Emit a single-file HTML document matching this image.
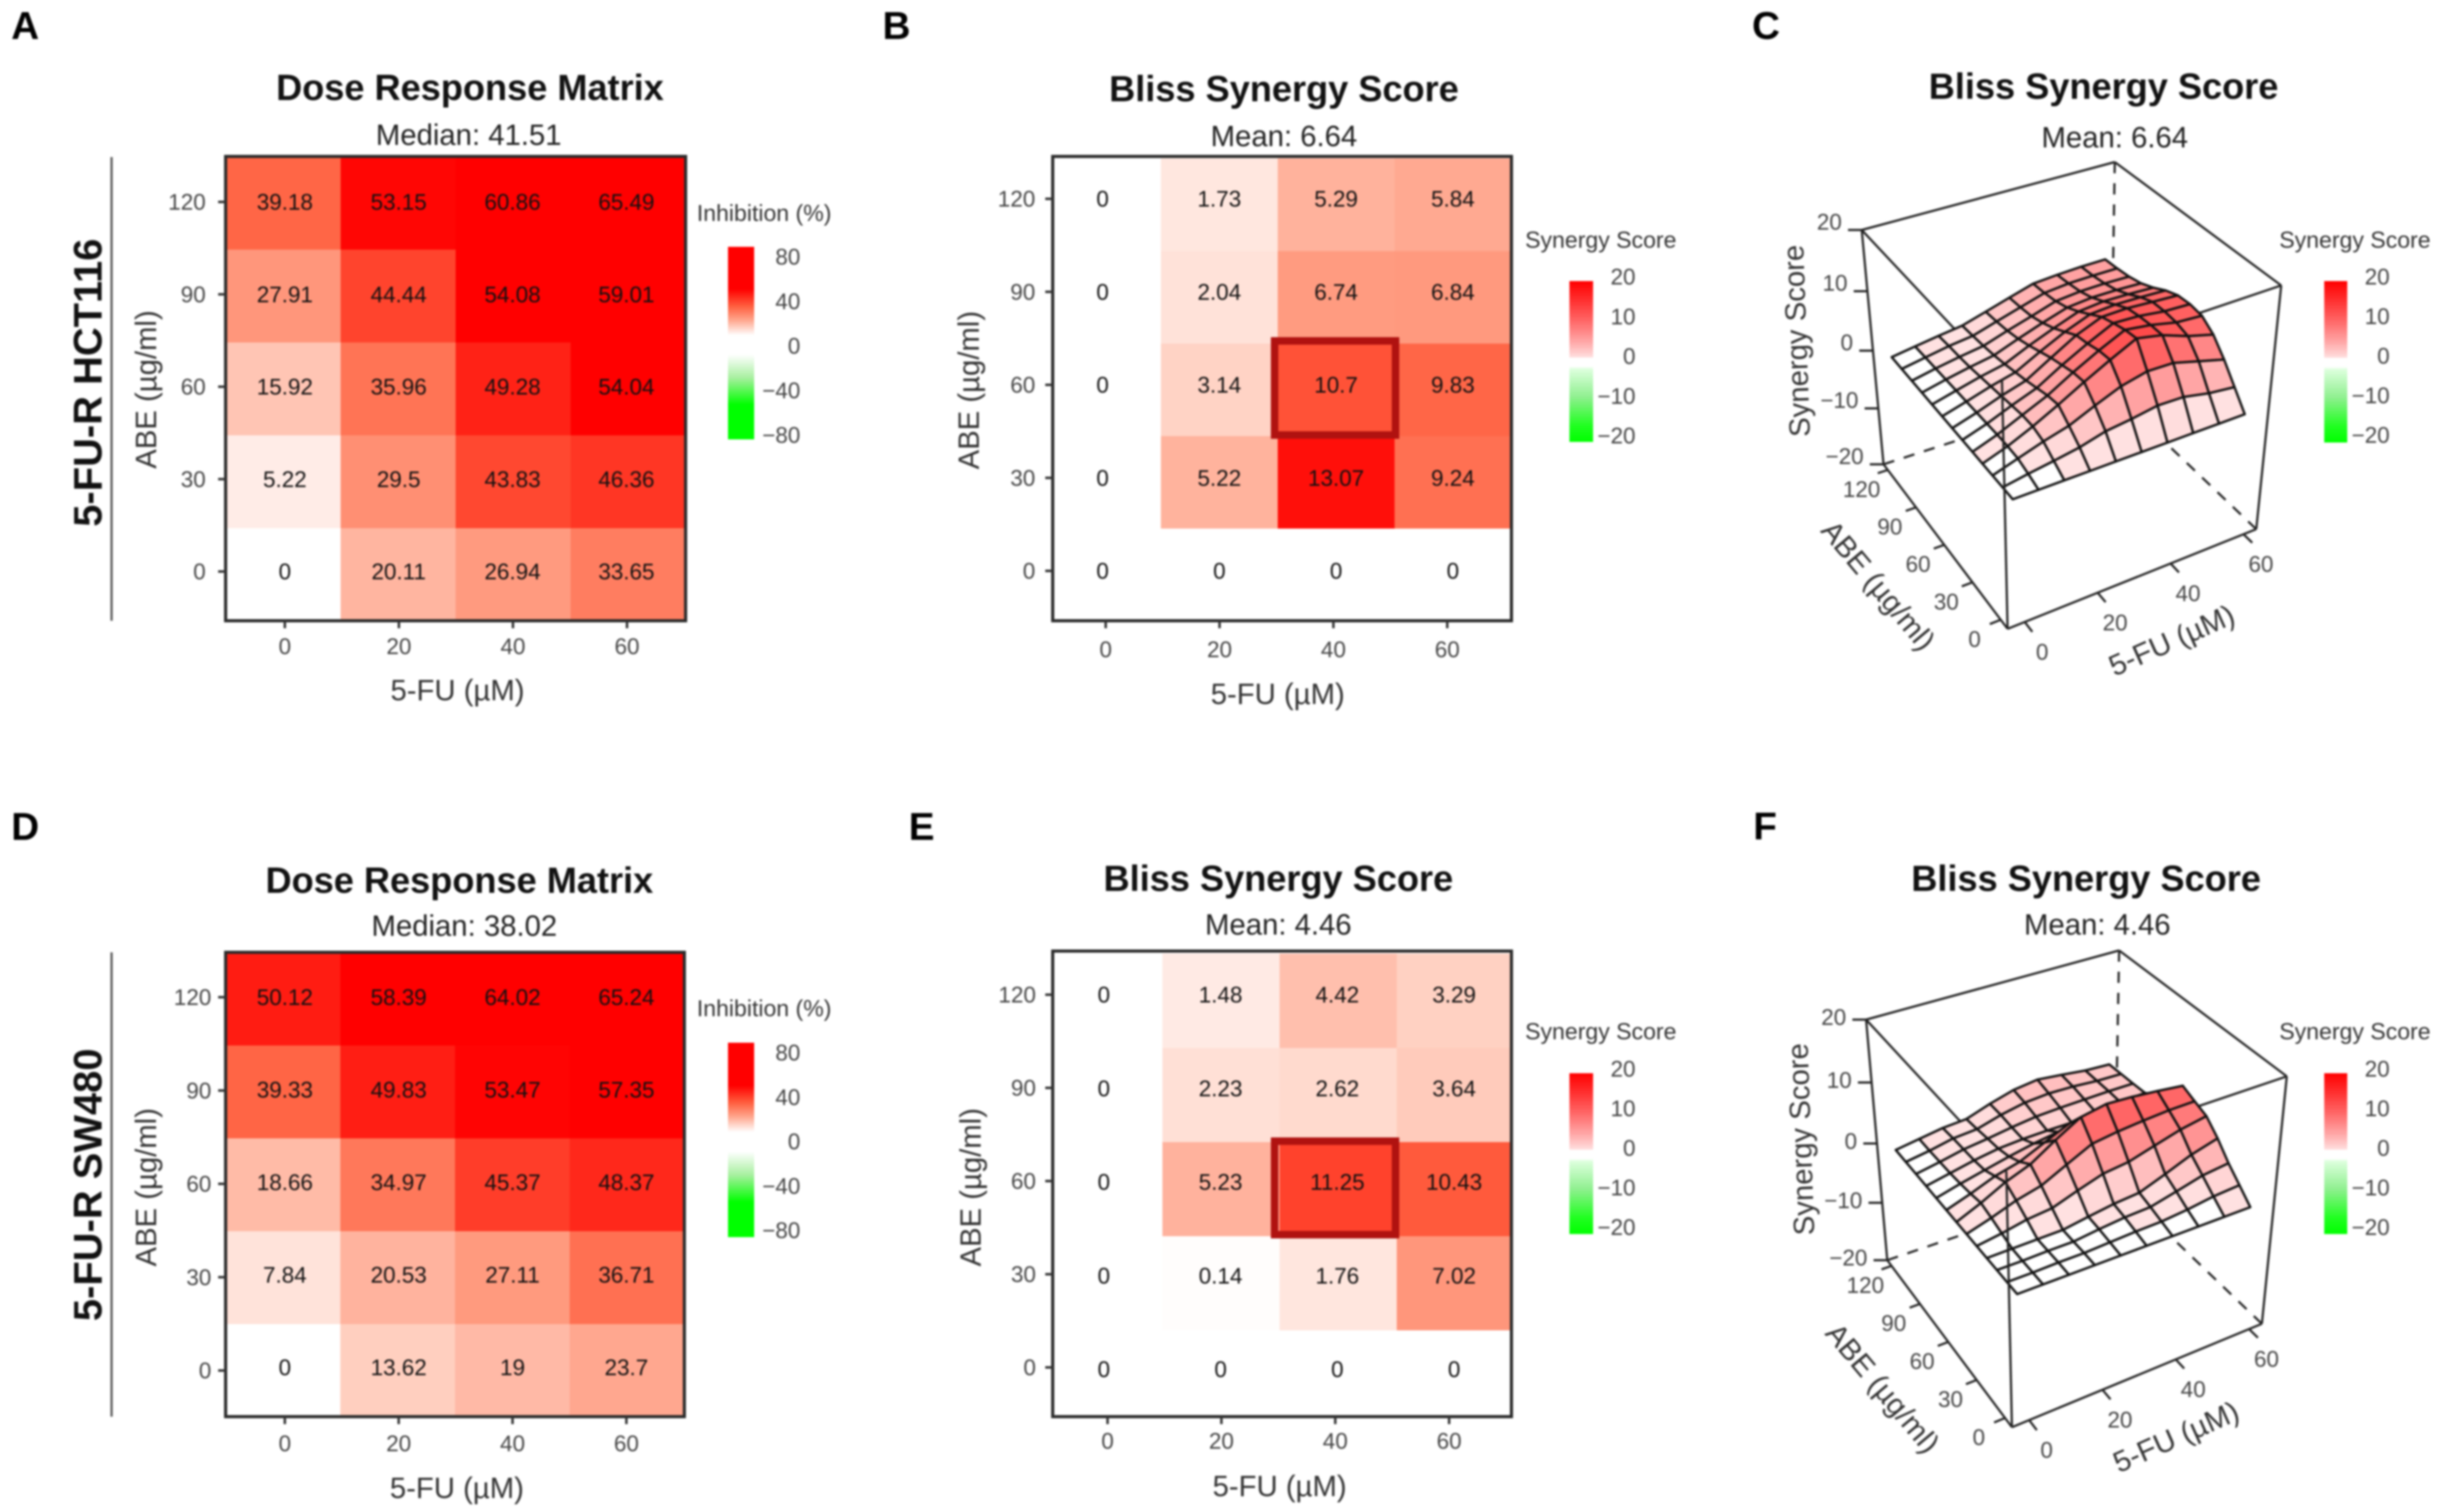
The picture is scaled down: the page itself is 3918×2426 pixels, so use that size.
<!DOCTYPE html>
<html lang="en">
<head>
<meta charset="utf-8">
<title>Dose response and Bliss synergy panels</title>
<style>
html,body{margin:0;padding:0;background:#fff}
svg{display:block;filter:blur(1.6px);font-family:"Liberation Sans",Arial,sans-serif}
.title{font-size:58px;font-weight:700;fill:#111;text-anchor:middle;dominant-baseline:central}
.sub{font-size:47px;fill:#222;text-anchor:middle;dominant-baseline:central}
.axt{font-size:47px;fill:#333;text-anchor:middle;dominant-baseline:central}
.row{font-size:64px;font-weight:700;fill:#111;text-anchor:middle;dominant-baseline:central}
.letter{font-size:62px;font-weight:700;fill:#000;dominant-baseline:central}
.lgt{font-size:37px;fill:#333;dominant-baseline:central}
.tick{font-size:36px;fill:#444;dominant-baseline:central}
.val{font-size:36px;fill:#111;text-anchor:middle;dominant-baseline:central}
</style>
</head>
<body>
<svg id="figure" xmlns="http://www.w3.org/2000/svg" width="3918" height="2426" viewBox="0 0 3918 2426">
<defs>
<linearGradient id="grad-inhibition" x1="0" y1="0" x2="0" y2="1">
<stop offset="0" stop-color="#ff0000"/><stop offset=".22" stop-color="#ff0000"/><stop offset=".31" stop-color="#ff6040"/><stop offset=".38" stop-color="#ffa58c"/><stop offset=".46" stop-color="#ffffff"/><stop offset=".56" stop-color="#ffffff"/><stop offset=".68" stop-color="#a8f0a0"/><stop offset=".82" stop-color="#00ff00"/><stop offset="1" stop-color="#00ff00"/>
</linearGradient>
<linearGradient id="grad-synergy" x1="0" y1="0" x2="0" y2="1">
<stop offset="0" stop-color="#ff0000"/><stop offset=".12" stop-color="#ff3030"/><stop offset=".25" stop-color="#ff6868"/><stop offset=".38" stop-color="#ffa8a8"/><stop offset=".47" stop-color="#ffdcdc"/><stop offset=".48" stop-color="#ffffff"/><stop offset=".53" stop-color="#ffffff"/><stop offset=".55" stop-color="#dcffdc"/><stop offset=".72" stop-color="#90f090"/><stop offset=".9" stop-color="#20ff20"/><stop offset="1" stop-color="#00ff00"/>
</linearGradient>
<clipPath id="clip-a"><rect x="362" y="251" width="738" height="745"/></clipPath>
<clipPath id="clip-b"><rect x="1689" y="251" width="736" height="745"/></clipPath>
<clipPath id="clip-d"><rect x="362" y="1528" width="736" height="745"/></clipPath>
<clipPath id="clip-e"><rect x="1689" y="1526" width="736" height="747"/></clipPath>
</defs>

<text class="letter" x="18" y="42">A</text>
<text class="letter" x="1416" y="42">B</text>
<text class="letter" x="2811" y="42">C</text>
<text class="letter" x="18" y="1327">D</text>
<text class="letter" x="1458" y="1327">E</text>
<text class="letter" x="2813" y="1326">F</text>

<text class="row" transform="translate(141 614) rotate(-90)">5-FU-R HCT116</text>
<line x1="179" y1="252" x2="179" y2="996" stroke="#555" stroke-width="3.5"/>
<text class="row" transform="translate(141 1901) rotate(-90)">5-FU-R SW480</text>
<line x1="179" y1="1528" x2="179" y2="2273" stroke="#555" stroke-width="3.5"/>

<g id="panel-a">
<text class="title" x="754" y="141">Dose Response Matrix</text>
<text class="sub" x="752" y="216">Median: 41.51</text>
<text class="axt" x="734" y="1107">5-FU (µM)</text>
<text class="axt" transform="translate(234 625) rotate(-90)">ABE (µg/ml)</text>
<text class="lgt" x="1118" y="342">Inhibition (%)</text>
<rect x="1168" y="396" width="42" height="309" fill="url(#grad-inhibition)"/>
</g>

<g id="panel-b">
<text class="title" x="2060" y="143">Bliss Synergy Score</text>
<text class="sub" x="2060" y="218">Mean: 6.64</text>
<text class="axt" x="2050" y="1113">5-FU (µM)</text>
<text class="axt" transform="translate(1554 626) rotate(-90)">ABE (µg/ml)</text>
<text class="lgt" x="2447" y="385">Synergy Score</text>
<rect x="2518" y="451" width="38" height="258" fill="url(#grad-synergy)"/>
</g>

<g id="panel-c">
<text class="title" x="3375" y="139">Bliss Synergy Score</text>
<text class="sub" x="3393" y="220">Mean: 6.64</text>
<text class="axt" transform="translate(2882 547) rotate(-92)">Synergy Score</text>
<text class="axt" transform="translate(3014 939) rotate(50)">ABE (µg/ml)</text>
<text class="axt" transform="translate(3484 1027) rotate(-24)">5-FU (µM)</text>
<text class="lgt" x="3657" y="385">Synergy Score</text>
<rect x="3729" y="451" width="37" height="259" fill="url(#grad-synergy)"/>
</g>

<g id="panel-d">
<text class="title" x="737" y="1413">Dose Response Matrix</text>
<text class="sub" x="745" y="1485">Median: 38.02</text>
<text class="axt" x="733" y="2387">5-FU (µM)</text>
<text class="axt" transform="translate(234 1905) rotate(-90)">ABE (µg/ml)</text>
<text class="lgt" x="1118" y="1618">Inhibition (%)</text>
<rect x="1168" y="1673" width="42" height="312" fill="url(#grad-inhibition)"/>
</g>

<g id="panel-e">
<text class="title" x="2051" y="1410">Bliss Synergy Score</text>
<text class="sub" x="2051" y="1483">Mean: 4.46</text>
<text class="axt" x="2053" y="2384">5-FU (µM)</text>
<text class="axt" transform="translate(1557 1905) rotate(-90)">ABE (µg/ml)</text>
<text class="lgt" x="2447" y="1655">Synergy Score</text>
<rect x="2518" y="1722" width="38" height="258" fill="url(#grad-synergy)"/>
</g>

<g id="panel-f">
<text class="title" x="3347" y="1410">Bliss Synergy Score</text>
<text class="sub" x="3365" y="1483">Mean: 4.46</text>
<text class="axt" transform="translate(2889 1828) rotate(-92)">Synergy Score</text>
<text class="axt" transform="translate(3021 2227) rotate(50)">ABE (µg/ml)</text>
<text class="axt" transform="translate(3491 2305) rotate(-24)">5-FU (µM)</text>
<text class="lgt" x="3657" y="1655">Synergy Score</text>
<rect x="3729" y="1722" width="37" height="258" fill="url(#grad-synergy)"/>
</g>
</svg>

<script>
// Chart data. Rows run from ABE 0 to ABE 120, columns from 5-FU 0 to 60.
const fuDoses = [0, 20, 40, 60];
const abeDoses = [0, 30, 60, 90, 120];
const inhibitionTicks = [80, 40, 0, -40, -80];
const synergyTicks = [20, 10, 0, -10, -20];
const zTicks = [20, 10, 0, -10, -20];
const panelAValues = [
  [0, 20.11, 26.94, 33.65],
  [5.22, 29.5, 43.83, 46.36],
  [15.92, 35.96, 49.28, 54.04],
  [27.91, 44.44, 54.08, 59.01],
  [39.18, 53.15, 60.86, 65.49]
];
const panelBValues = [
  [0, 0, 0, 0],
  [0, 5.22, 13.07, 9.24],
  [0, 3.14, 10.7, 9.83],
  [0, 2.04, 6.74, 6.84],
  [0, 1.73, 5.29, 5.84]
];
const panelDValues = [
  [0, 13.62, 19, 23.7],
  [7.84, 20.53, 27.11, 36.71],
  [18.66, 34.97, 45.37, 48.37],
  [39.33, 49.83, 53.47, 57.35],
  [50.12, 58.39, 64.02, 65.24]
];
const panelEValues = [
  [0, 0, 0, 0],
  [0, 0.14, 1.76, 7.02],
  [0, 5.23, 11.25, 10.43],
  [0, 2.23, 2.62, 3.64],
  [0, 1.48, 4.42, 3.29]
];
const meshFuDoses = [0, 6.67, 13.33, 20, 26.67, 33.33, 40, 46.67, 53.33, 60];
const meshAbeDoses = [0, 10, 20, 30, 40, 50, 60, 70, 80, 90, 100, 110, 120];
const panelCSurface = [
  [0, 0, 0, 0, 0, 0, 0, 0, 0, 0],
  [0, 0.7, 1.3, 2, 3.1, 3.6, 4.3, 4.2, 3.3, 2.8],
  [0, 1.3, 2.6, 3.7, 5.5, 7.2, 8.2, 8.1, 6.9, 5.7],
  [0, 1.4, 3.2, 5.3, 7.6, 9.8, 11.9, 11, 9.4, 8.2],
  [0, 1.4, 3.2, 5, 7.4, 9.6, 11.6, 11, 10, 9.7],
  [0, 1.3, 2.9, 4.4, 6.8, 9, 11, 10.8, 10.2, 10],
  [0, 1.2, 2.6, 3.8, 6.2, 8.6, 10.3, 10.4, 10.1, 9.83],
  [0, 1.1, 2.3, 3.3, 5.4, 7.4, 9, 9.3, 9.2, 9],
  [0, 1, 2, 2.8, 4.6, 6.2, 7.7, 8.1, 8, 7.8],
  [0, 0.9, 1.7, 2.4, 3.9, 5.3, 6.6, 7, 7, 6.84],
  [0, 0.8, 1.5, 2.1, 3.4, 4.6, 5.9, 6.3, 6.4, 6.3],
  [0, 0.7, 1.4, 1.9, 3.1, 4.3, 5.5, 5.9, 6, 6],
  [0, 0.6, 1.2, 1.73, 2.9, 4.1, 5.29, 5.6, 5.8, 5.84]
];
const panelFSurface = [
  [0, 0, 0, 0, 0, 0, 0, 0, 0, 0],
  [0, 0, 0.1, 0.1, 0.3, 0.5, 0.6, 1, 1.6, 1.9],
  [0, 0, 0.1, 0.1, 0.6, 1, 1.2, 2.2, 3.3, 3.8],
  [0, 0.05, 0.1, 0.14, 0.8, 1.4, 1.76, 3.3, 5, 6.2],
  [0, 0.6, 1.4, 1.8, 3.2, 4.5, 5, 6.2, 7.4, 8.2],
  [0, 1.2, 2.6, 3.6, 5.6, 7.6, 8.2, 8.6, 8.9, 9],
  [0, 1.7, 3.7, 5.23, 7.8, 10.2, 11, 10.8, 10.4, 9.9],
  [0, 1.3, 2.8, 3.8, 5.6, 7.4, 8, 7.8, 7.4, 7],
  [0, 1, 1.9, 2.8, 3.6, 4.2, 4.4, 4.6, 4.9, 5],
  [0, 0.8, 1.6, 2.23, 2.5, 2.6, 2.62, 3, 3.4, 3.64],
  [0, 0.7, 1.5, 2, 2.6, 3.1, 3.3, 3.4, 3.5, 3.5],
  [0, 0.6, 1.4, 1.7, 2.8, 3.6, 3.9, 3.8, 3.5, 3.4],
  [0, 0.6, 1.2, 1.48, 2.8, 3.9, 4.42, 4, 3.5, 3.29]
];

// Layout, kept apart from the data.
const NS = 'http://www.w3.org/2000/svg';
const heatmapLayouts = [
  {id: 'panel-a', clip: 'clip-a', values: panelAValues, saturation: 54, box: [362, 1100, 251, 996], cells: [362, 1100, 251, 996],
   xTick: [457, 1006], xText: [457, 1005], yTick: [917, 324], yText: [917, 324], yLabelEnd: 330, xLabelY: 1037,
   legendTicks: inhibitionTicks, legendY: [412, 698], legendEnd: 1284},
  {id: 'panel-b', clip: 'clip-b', values: panelBValues, saturation: 13.6, box: [1689, 2425, 251, 996], cells: [1675, 2425, 254, 996],
   xTick: [1774, 2322], xText: [1769, 2331], yTick: [916, 319], yText: [916, 319], yLabelEnd: 1661, xLabelY: 1042,
   legendTicks: synergyTicks, legendY: [444, 699], legendEnd: 2624},
  {id: 'panel-d', clip: 'clip-d', values: panelDValues, saturation: 54, box: [362, 1098, 1528, 2273], cells: [362, 1098, 1528, 2273],
   xTick: [457, 1005], xText: [457, 1005], yTick: [2199, 1600], yText: [2194, 1600], yLabelEnd: 339, xLabelY: 2316,
   legendTicks: inhibitionTicks, legendY: [1689, 1974], legendEnd: 1284},
  {id: 'panel-e', clip: 'clip-e', values: panelEValues, saturation: 13.6, box: [1689, 2425, 1526, 2273], cells: [1677, 2429, 1530, 2285],
   xTick: [1777, 2325], xText: [1771, 2333], yTick: [2194, 1596], yText: [2197, 1596], yLabelEnd: 1662, xLabelY: 2312,
   legendTicks: synergyTicks, legendY: [1715, 1969], legendEnd: 2624}
];
const surfaceLayouts = [
  {id: 'panel-c', surface: panelCSurface, zLabelDy: -13,
   F: [3221, 1009], R: [3620, 849], L: [3022, 745], B: [3387, 627],
   Ft: [3212, 609], Rt: [3660, 458], Lt: [2987, 369], Bt: [3393, 260],
   legendY: [444, 698], legendEnd: 3834},
  {id: 'panel-f', surface: panelFSurface, zLabelDy: -4,
   F: [3228, 2290], R: [3629, 2124], L: [3028, 2022], B: [3393, 1898],
   Ft: [3219, 1879], Rt: [3669, 1727], Lt: [2994, 1636], Bt: [3400, 1525],
   legendY: [1715, 1969], legendEnd: 3834}
];
const XR = [-2.4, 65.8], YR = [-1.3, 130.5], ZR = [-20, 20];

function mk(parent, tag, attrs, text) {
  const n = document.createElementNS(NS, tag);
  for (const k in attrs) n.setAttribute(k, attrs[k]);
  if (text !== undefined) n.textContent = text;
  parent.appendChild(n);
  return n;
}
function linear(domain, range) {
  return function (v) {
    return range[0] + (v - domain[0]) / (domain[1] - domain[0]) * (range[1] - range[0]);
  };
}
function fmt(v) {
  return v < 0 ? '\u2212' + Math.abs(v) : String(v);
}
const colorStops = [[255, 255, 255], [255, 207, 192], [255, 154, 127], [255, 96, 64], [255, 0, 0]];
function heatColor(value, saturation) {
  const t = Math.max(0, Math.min(1, value / saturation)) * 4;
  const i = Math.min(3, Math.floor(t));
  const f = t - i;
  const a = colorStops[i], b = colorStops[i + 1];
  return 'rgb(' + [0, 1, 2].map(function (c) { return Math.round(a[c] + (b[c] - a[c]) * f); }).join(',') + ')';
}
function surfaceColor(z) {
  if (z < 0.7) return '#ffffff';
  const g = Math.max(0, Math.min(225, Math.round(255 * (1 - z / 16))));
  return 'rgb(255,' + g + ',' + g + ')';
}

function drawLegendTicks(group, ticks, yPos, endX, prefix) {
  const legendY = linear([ticks[0], ticks[ticks.length - 1]], yPos);
  ticks.forEach(function (t) {
    const label = mk(group, 'text', {class: 'tick', x: endX, y: legendY(t), 'text-anchor': 'end'}, fmt(t));
    
    
  });
}

function drawHeatmap(p) {
  const g = document.getElementById(p.id);
  const cellW = (p.cells[1] - p.cells[0]) / fuDoses.length;
  const cellH = (p.cells[3] - p.cells[2]) / abeDoses.length;
  const xTick = linear([fuDoses[0], fuDoses[3]], p.xTick);
  const xText = linear([fuDoses[0], fuDoses[3]], p.xText);
  const yTick = linear([abeDoses[0], abeDoses[4]], p.yTick);
  const yText = linear([abeDoses[0], abeDoses[4]], p.yText);

  const cellGroup = mk(g, 'g', {'clip-path': 'url(#' + p.clip + ')'});
  
  
  p.values.forEach(function (row, r) {
    row.forEach(function (value, c) {
      const cell = mk(cellGroup, 'rect', {
        x: p.cells[0] + c * cellW,
        y: p.cells[3] - (r + 1) * cellH,
        width: cellW + 0.5,
        height: cellH + 0.5,
        fill: heatColor(value, p.saturation)
      });
      
      
    });
  });

  const frame = mk(g, 'rect', {x: p.box[0], y: p.box[2], width: p.box[1] - p.box[0], height: p.box[3] - p.box[2], fill: 'none', stroke: '#2a2a2a', 'stroke-width': 5});
  
  

  p.values.forEach(function (row, r) {
    row.forEach(function (value, c) {
      const label = mk(g, 'text', {class: 'val', x: xText(fuDoses[c]), y: yText(abeDoses[r])}, String(value));
      
      
    });
  });

  fuDoses.forEach(function (d) {
    const tick = mk(g, 'line', {x1: xTick(d), x2: xTick(d), y1: p.box[3], y2: p.box[3] + 12, stroke: '#333', 'stroke-width': 4});
    
    
    const label = mk(g, 'text', {class: 'tick', x: xTick(d), y: p.xLabelY, 'text-anchor': 'middle'}, String(d));
    
    
  });
  abeDoses.forEach(function (d) {
    const tick = mk(g, 'line', {x1: p.box[0] - 12, x2: p.box[0], y1: yTick(d), y2: yTick(d), stroke: '#333', 'stroke-width': 4});
    
    
    const label = mk(g, 'text', {class: 'tick', x: p.yLabelEnd, y: yTick(d), 'text-anchor': 'end'}, String(d));
    
    
  });
  drawLegendTicks(g, p.legendTicks, p.legendY, p.legendEnd, p.id);
}

function projector(p) {
  function bil(a, b, c, d, u, v, i) {
    return (1 - u) * (1 - v) * a[i] + u * (1 - v) * b[i] + (1 - u) * v * c[i] + u * v * d[i];
  }
  return function (x, y, z) {
    const u = (x - XR[0]) / (XR[1] - XR[0]);
    const v = (y - YR[0]) / (YR[1] - YR[0]);
    const w = (z - ZR[0]) / (ZR[1] - ZR[0]);
    return [0, 1].map(function (i) {
      const lo = bil(p.F, p.R, p.L, p.B, u, v, i);
      const hi = bil(p.Ft, p.Rt, p.Lt, p.Bt, u, v, i);
      return lo + (hi - lo) * w;
    });
  };
}

function drawSurface(p) {
  const g = document.getElementById(p.id);
  const proj = projector(p);
  function edge(a, b, dashed, name) {
    const attrs = {x1: a[0], y1: a[1], x2: b[0], y2: b[1], stroke: '#222', 'stroke-width': 3.5};
    if (dashed) attrs['stroke-dasharray'] = '18 16';
    const line = mk(g, 'line', attrs);
    
    
  }
  edge(p.L, p.B, true, p.id + '-box-hidden-edge');
  edge(p.R, p.B, true, p.id + '-box-hidden-edge');
  edge(p.Bt, p.B, true, p.id + '-box-hidden-edge');
  edge(p.Lt, p.Bt, false, p.id + '-box-top-edge');
  edge(p.Bt, p.Rt, false, p.id + '-box-top-edge');
  edge(p.Lt, p.Ft, false, p.id + '-box-top-edge');
  edge(p.Rt, p.Ft, false, p.id + '-box-top-edge');
  edge(p.L, p.Lt, false, p.id + '-box-vertical-edge');
  edge(p.R, p.Rt, false, p.id + '-box-vertical-edge');

  const mesh = mk(g, 'g', {});
  
  
  for (let r = meshAbeDoses.length - 2; r >= 0; r--) {
    for (let c = meshFuDoses.length - 2; c >= 0; c--) {
      const z00 = p.surface[r][c], z01 = p.surface[r][c + 1], z10 = p.surface[r + 1][c], z11 = p.surface[r + 1][c + 1];
      const corners = [
        proj(meshFuDoses[c], meshAbeDoses[r], z00),
        proj(meshFuDoses[c + 1], meshAbeDoses[r], z01),
        proj(meshFuDoses[c + 1], meshAbeDoses[r + 1], z11),
        proj(meshFuDoses[c], meshAbeDoses[r + 1], z10)
      ];
      const facet = mk(mesh, 'polygon', {
        points: corners.map(function (q) { return q[0].toFixed(1) + ',' + q[1].toFixed(1); }).join(' '),
        fill: surfaceColor((z00 + z01 + z10 + z11) / 4),
        stroke: '#111',
        'stroke-width': 3.8,
        'stroke-linejoin': 'round'
      });
      
      
    }
  }

  edge(p.F, p.Ft, false, p.id + '-box-front-edge');
  edge(p.F, p.L, false, p.id + '-y-axis-line');
  edge(p.F, p.R, false, p.id + '-x-axis-line');

  fuDoses.forEach(function (d) {
    const a = proj(d + 2.3, YR[0], ZR[0]);
    const b = proj(d + 2.3, YR[0] - 8, ZR[0]);
    edge(a, b, false, p.id + '-x-tick');
    const label = mk(g, 'text', {class: 'tick', x: a[0] + 28, y: a[1] + 48, 'text-anchor': 'middle'}, String(d));
    
    
  });
  abeDoses.forEach(function (d) {
    const a = proj(XR[0], d + 6, ZR[0]);
    const b = proj(XR[0] - 3, d + 6, ZR[0]);
    edge(a, b, false, p.id + '-y-tick');
    const label = mk(g, 'text', {class: 'tick', x: a[0] - 42, y: a[1] + 31, 'text-anchor': 'middle'}, String(d));
    
    
  });
  zTicks.forEach(function (d) {
    // The printed z axis is slightly bowed by perspective, so mid ticks sit a little lower.
    const a = proj(XR[0], YR[1], d - 0.6 * (1 - (d / 20) * (d / 20)));
    edge(a, [a[0] - 22, a[1]], false, p.id + '-z-tick');
    const label = mk(g, 'text', {class: 'tick', x: a[0] - 32, y: a[1] + p.zLabelDy, 'text-anchor': 'end'}, fmt(d));
    
    
  });
  drawLegendTicks(g, synergyTicks, p.legendY, p.legendEnd, p.id);
}

heatmapLayouts.forEach(drawHeatmap);
surfaceLayouts.forEach(drawSurface);

const highlightB = mk(document.getElementById('panel-b'), 'rect', {x: 2045, y: 547, width: 194, height: 151, fill: 'none', stroke: '#b01210', 'stroke-width': 12});


const highlightE = mk(document.getElementById('panel-e'), 'rect', {x: 2045, y: 1831, width: 194, height: 150, fill: 'none', stroke: '#b01210', 'stroke-width': 12});


</script>
</body>
</html>
